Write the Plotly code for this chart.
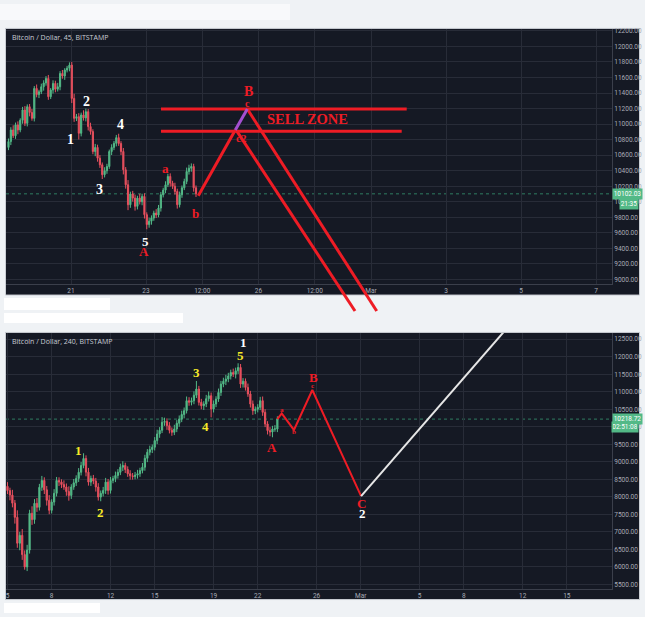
import plotly.graph_objects as go
import pandas as pd

# ---------------- DATA ----------------
# Top panel: BTC/USD (45 view), candles Feb 19 - Feb 24 2018
top_first_open = 10700
top_close = [
    10775, 10925, 10850, 10990, 10925, 11050, 11182, 11010, 11224, 11150,
    11074, 11460, 11380, 11417, 11481, 11530, 11588, 11353, 11439, 11524,
    11450, 11481, 11652, 11620, 11696, 11720, 11760, 11331, 11074, 11096,
    10882, 11118, 11080, 11160, 10968, 10904, 10647, 10700, 10561, 10476,
    10348, 10400, 10454, 10647, 10700, 10753, 10826, 10750, 10647, 10412,
    10219, 9962, 10100, 10047, 9941, 10047, 10000, 10069, 9834, 9706,
    9750, 9790, 9855, 9830, 9919, 10091, 10150, 10219, 10326, 10240,
    10200, 10133, 9962, 10091, 10180, 10262, 10390, 10432, 10454, 10180,
    10102,
]
top_wick_hi = [
    40, 35, 60, 30, 45, 25, 40, 50, 30, 35,
    45, 30, 50, 25, 40, 35, 30, 45, 25, 40,
    35, 50, 30, 45, 25, 30, 35, 40, 60, 35,
    45, 30, 60, 40, 35, 50, 30, 45, 35, 40,
    30, 45, 35, 25, 40, 30, 35, 50, 30, 45,
    35, 60, 30, 40, 45, 30, 55, 35, 40, 30,
    45, 35, 30, 50, 40, 35, 30, 45, 35, 40,
    30, 45, 35, 40, 30, 35, 50, 45, 40, 35,
    30,
]
top_wick_lo = [
    35, 45, 30, 40, 55, 30, 45, 35, 40, 50,
    30, 40, 35, 45, 30, 50, 35, 40, 30, 45,
    40, 30, 45, 35, 50, 30, 40, 60, 45, 35,
    80, 40, 35, 45, 50, 40, 35, 60, 45, 40,
    55, 35, 40, 30, 45, 35, 40, 30, 45, 60,
    50, 70, 40, 45, 55, 40, 35, 45, 50, 60,
    40, 45, 35, 40, 30, 45, 35, 40, 30, 45,
    35, 40, 50, 35, 40, 30, 35, 40, 45, 50,
    40,
]
top_dates = pd.date_range(end="2018-02-24 08:00", periods=len(top_close), freq="90min")
top_last_price = 10102.03

# Bottom panel: BTC/USD (240 view), candles Feb 5 - Feb 23 2018
bot_first_open = 8300
bot_close = [
    8180, 8050, 7820, 7415, 6675, 6900, 6350, 6000, 6480, 7530,
    7350, 7815, 7700, 8270, 8467, 8200, 7900, 7615, 7850, 8100,
    8467, 8420, 8350, 8280, 8150, 8040, 8280, 8400, 8525, 8700,
    8895, 9094, 8705, 8420, 8525, 8450, 8280, 7993, 8100, 8183,
    8420, 8183, 8467, 8520, 8610, 8700, 8846, 8895, 8780, 8660,
    8600, 8580, 8620, 8660, 8750, 8846, 9100, 9273, 9350, 9415,
    9605, 9795, 9900, 10127, 10150, 10033, 9900, 9842, 9937, 10100,
    10223, 10350, 10460, 10744, 10700, 10744, 10900, 11077, 10697, 10600,
    10650, 10800, 10886, 10508, 10650, 10791, 10981, 11219, 11300, 11362,
    11450, 11550, 11500, 11598, 11692, 11219, 11300, 11123, 10935, 10650,
    10460, 10500, 10555, 10744, 10412, 10080, 9890, 9850, 9937, 9937,
    10219,
]
bot_wick_hi = [
    120, 80, 150, 90, 200, 100, 180, 120, 150, 100,
    200, 120, 150, 100, 130, 90, 110, 150, 80, 120,
    100, 90, 80, 120, 100, 150, 80, 110, 90, 120,
    100, 150, 90, 120, 80, 100, 90, 110, 80, 100,
    120, 90, 100, 80, 110, 90, 100, 120, 80, 90,
    100, 80, 90, 110, 80, 120, 100, 90, 110, 80,
    100, 120, 90, 150, 110, 90, 100, 80, 120, 90,
    100, 110, 90, 120, 100, 90, 110, 230, 90, 100,
    80, 110, 120, 90, 100, 80, 110, 90, 100, 120,
    90, 80, 110, 90, 120, 100, 90, 80, 110, 90,
    100, 80, 90, 110, 120, 90, 80, 100, 90, 110,
    80,
]
bot_wick_lo = [
    100, 150, 120, 180, 130, 200, 150, 80, 120, 100,
    150, 120, 130, 90, 100, 120, 150, 110, 90, 100,
    90, 110, 100, 80, 120, 150, 100, 80, 90, 100,
    90, 80, 120, 100, 110, 90, 130, 100, 120, 90,
    100, 120, 90, 80, 100, 90, 80, 110, 100, 90,
    110, 90, 80, 100, 90, 80, 100, 110, 90, 100,
    90, 100, 110, 80, 100, 120, 90, 100, 80, 90,
    100, 90, 110, 80, 100, 90, 100, 80, 90, 100,
    120, 90, 80, 240, 100, 90, 80, 100, 90, 110,
    90, 100, 80, 120, 90, 110, 100, 90, 80, 100,
    120, 100, 90, 80, 100, 90, 110, 120, 150, 80,
    90,
]
bot_dates = pd.date_range("2018-02-05 00:00", periods=len(bot_close), freq="4h")
bot_last_price = 10218.72

# Drawn projections (date, price)
sell_hi_x = ["2018-02-23 09:36", "2018-03-01 22:51"]
sell_hi_y = [11195, 11195]
sell_lo_x = ["2018-02-23 09:36", "2018-03-01 19:39"]
sell_lo_y = [10907, 10907]
top_up_x = ["2018-02-24 09:29", "2018-02-25 09:09"]
top_up_y = [10078, 10925]
top_purple_x = ["2018-02-25 09:09", "2018-02-25 16:50"]
top_purple_y = [10925, 11195]
top_outer_x = ["2018-02-25 16:50", "2018-03-01 03:39"]
top_outer_y = [11195, 8593]
top_inner_x = ["2018-02-25 10:14", "2018-02-28 13:45"]
top_inner_y = [10907, 8593]

bot_zig_x = ["2018-02-23 08:00", "2018-02-23 15:06", "2018-02-24 11:02",
             "2018-02-25 17:00", "2018-03-01 00:30"]
bot_zig_y = [10219, 10383, 9910, 11049, 8021]
bot_white_x = ["2018-03-01 00:30", "2018-03-10 21:00"]
bot_white_y = [8021, 12786]

# Tick labels
top_tickvals = ["2018-02-21", "2018-02-23", "2018-02-24 12:00", "2018-02-26",
                "2018-02-27 12:00", "2018-03-01", "2018-03-03", "2018-03-05", "2018-03-07"]
top_ticktext = ["21", "23", "12:00", "26", "12:00", "Mar", "3", "5", "7"]
top_price_ticks = list(range(9000, 12201, 200))
bot_tickvals = ["2018-02-05", "2018-02-08", "2018-02-12", "2018-02-15", "2018-02-19",
                "2018-02-22", "2018-02-26", "2018-03-01", "2018-03-05", "2018-03-08",
                "2018-03-12", "2018-03-15"]
bot_ticktext = ["5", "8", "12", "15", "19", "22", "26", "Mar", "5", "8", "12", "15"]
bot_price_ticks = list(range(5500, 12501, 500))

# Wave labels: (text, date, price, color, size)
RED = "#ee1c25"
YEL = "#f7e928"
WHT = "#ffffff"
top_labels = [
    ("1", "2018-02-20 23:50", 10801, WHT, 14),
    ("2", "2018-02-21 10:03", 11289, WHT, 14),
    ("3", "2018-02-21 18:33", 10155, WHT, 14),
    ("4", "2018-02-22 07:22", 10997, WHT, 14),
    ("5", "2018-02-22 23:48", 9491, WHT, 13),
    ("A", "2018-02-22 22:43", 9363, RED, 13),
    ("a", "2018-02-23 12:36", 10432, RED, 13),
    ("b", "2018-02-24 07:48", 9855, RED, 13),
    ("B", "2018-02-25 17:28", 11420, RED, 14),
    ("c", "2018-02-25 16:49", 11270, RED, 10),
    ("c2", "2018-02-25 13:15", 10826, RED, 11),
    ("SELL ZONE", "2018-02-27 07:22", 11064, RED, 14.5),
]
bot_labels = [
    ("1", "2018-02-09 19:27", 9321, YEL, 13),
    ("2", "2018-02-11 06:49", 7548, YEL, 13),
    ("3", "2018-02-17 19:21", 11550, YEL, 13),
    ("4", "2018-02-18 10:01", 10004, YEL, 13),
    ("5", "2018-02-20 19:04", 12025, YEL, 13),
    ("1", "2018-02-21 00:27", 12403, WHT, 13),
    ("A", "2018-02-22 22:45", 9415, RED, 13),
    ("a", "2018-02-23 15:04", 10479, RED, 7),
    ("b", "2018-02-24 11:07", 9842, RED, 7),
    ("B", "2018-02-25 18:35", 11420, RED, 13),
    ("c", "2018-02-25 16:58", 11160, RED, 7),
    ("C", "2018-03-01 01:30", 7804, RED, 13),
    ("2", "2018-03-01 02:28", 7520, WHT, 13),
]

# ---------------- GEOMETRY / STYLE ----------------
W, H = 645, 617
def fx(px):
    return px / W
def fy(py):
    return 1 - py / H

BG = "#151924"
GRID = "#282c38"
AXLINE = "#3b3f4b"
TICKC = "#a8acb6"
GREEN = "#53b987"
CRED = "#e8505e"
PAGE = "#eff2f5"

top_yrange = [8940, 12226]
top_px = (27, 283)
bot_yrange = [5366, 12679]
bot_px = (332, 589)
ext_bottom_px = 312
scale_top = (top_yrange[1] - top_yrange[0]) / (top_px[1] - top_px[0])
ext_yrange = [top_yrange[1] - (ext_bottom_px - top_px[0]) * scale_top, top_yrange[1]]
top_xrange = ["2018-02-19 06:24", "2018-03-07 10:14"]
bot_xrange = ["2018-02-04 21:33", "2018-03-18 01:36"]


def ohlc(first_open, close, whi, wlo):
    o = [first_open] + close[:-1]
    h = [max(a, b) + w for a, b, w in zip(o, close, whi)]
    l = [min(a, b) - w for a, b, w in zip(o, close, wlo)]
    return o, h, l


fig = go.Figure()

to, th, tl = ohlc(top_first_open, top_close, top_wick_hi, top_wick_lo)
fig.add_trace(go.Candlestick(
    x=top_dates, open=to, high=th, low=tl, close=top_close,
    increasing=dict(line=dict(color=GREEN, width=1), fillcolor=GREEN),
    decreasing=dict(line=dict(color=CRED, width=1), fillcolor=CRED),
    xaxis="x", yaxis="y", showlegend=False, hoverinfo="skip"))

bo, bh, bl = ohlc(bot_first_open, bot_close, bot_wick_hi, bot_wick_lo)
fig.add_trace(go.Candlestick(
    x=bot_dates, open=bo, high=bh, low=bl, close=bot_close,
    increasing=dict(line=dict(color=GREEN, width=1), fillcolor=GREEN),
    decreasing=dict(line=dict(color=CRED, width=1), fillcolor=CRED),
    xaxis="x2", yaxis="y2", showlegend=False, hoverinfo="skip"))


def line(x, y, color, width, xa, ya):
    fig.add_trace(go.Scatter(x=x, y=y, mode="lines", line=dict(color=color, width=width),
                             xaxis=xa, yaxis=ya, showlegend=False, hoverinfo="skip"))


# Top projections on extended overlay axes (lines run past the panel bottom)
line(sell_hi_x, sell_hi_y, RED, 3, "x3", "y3")
line(sell_lo_x, sell_lo_y, RED, 3, "x3", "y3")
line(top_up_x, top_up_y, RED, 3, "x3", "y3")
line(top_outer_x, top_outer_y, RED, 3, "x3", "y3")
line(top_inner_x, top_inner_y, RED, 3, "x3", "y3")
line(top_purple_x, top_purple_y, "#a44fd0", 3, "x3", "y3")

line(bot_zig_x, bot_zig_y, RED, 2, "x2", "y2")
line(bot_white_x, bot_white_y, "#e6e6e6", 2, "x2", "y2")

xdom = [fx(6), fx(612)]
axis_common = dict(showgrid=True, gridcolor=GRID, gridwidth=1, zeroline=False,
                   tickfont=dict(family="Roboto", size=6.5, color=TICKC), ticks="",
                   showline=True, linecolor=AXLINE, linewidth=1, fixedrange=True)

fig.update_layout(
    width=W, height=H, margin=dict(l=0, r=0, t=0, b=0),
    paper_bgcolor=PAGE, plot_bgcolor="rgba(0,0,0,0)",
    showlegend=False,
    xaxis=dict(domain=xdom, anchor="y", type="date", range=top_xrange,
               tickvals=top_tickvals, ticktext=top_ticktext,
               rangeslider=dict(visible=False), **axis_common),
    yaxis=dict(domain=[fy(top_px[1]), fy(top_px[0])], anchor="x", side="right",
               range=top_yrange, tickvals=top_price_ticks, tickformat=".2f", **axis_common),
    xaxis2=dict(domain=xdom, anchor="y2", type="date", range=bot_xrange,
                tickvals=bot_tickvals, ticktext=bot_ticktext,
                rangeslider=dict(visible=False), **axis_common),
    yaxis2=dict(domain=[fy(bot_px[1]), fy(bot_px[0])], anchor="x2", side="right",
                range=bot_yrange, tickvals=bot_price_ticks, tickformat=".2f", **axis_common),
    xaxis3=dict(domain=xdom, anchor="y3", type="date", range=top_xrange, visible=False,
                fixedrange=True),
    yaxis3=dict(domain=[fy(ext_bottom_px), fy(top_px[0])], anchor="x3", range=ext_yrange,
                visible=False, fixedrange=True),
)

shapes = [
    # dark panels
    dict(type="rect", xref="paper", yref="paper", x0=fx(5.5), x1=fx(639.5), y0=fy(294), y1=fy(26.5),
         fillcolor=BG, line=dict(color="#c9cdd3", width=1), layer="below"),
    dict(type="rect", xref="paper", yref="paper", x0=fx(5.5), x1=fx(639.5), y0=fy(599.5), y1=fy(331.5),
         fillcolor=BG, line=dict(color="#c9cdd3", width=1), layer="below"),
    # white scribbles on the page
    dict(type="rect", xref="paper", yref="paper", x0=fx(4), x1=fx(110), y0=fy(309), y1=fy(297),
         fillcolor="#ffffff", line=dict(width=0), layer="below"),
    dict(type="rect", xref="paper", yref="paper", x0=fx(4), x1=fx(183), y0=fy(322), y1=fy(312),
         fillcolor="#ffffff", line=dict(width=0), layer="below"),
    dict(type="rect", xref="paper", yref="paper", x0=fx(4), x1=fx(100), y0=fy(613), y1=fy(603),
         fillcolor="#ffffff", line=dict(width=0), layer="below"),
    dict(type="rect", xref="paper", yref="paper", x0=fx(0), x1=fx(290), y0=fy(18), y1=fy(2),
         fillcolor="#f8f9fb", line=dict(width=0), layer="below"),
    # last-price dotted lines
    dict(type="line", xref="x domain", yref="y", x0=0, x1=1, y0=top_last_price, y1=top_last_price,
         line=dict(color="#2f7d62", width=1, dash="dot"), layer="below"),
    dict(type="line", xref="x2 domain", yref="y2", x0=0, x1=1, y0=bot_last_price, y1=bot_last_price,
         line=dict(color="#2f7d62", width=1, dash="dot"), layer="below"),
]
fig.update_layout(shapes=shapes)

ann = []
SERIF = "Liberation Serif"
for t, x, y, c, s in top_labels:
    ann.append(dict(text="<b>%s</b>" % t, x=x, y=y, xref="x", yref="y", showarrow=False,
                    font=dict(family=SERIF, size=s, color=c)))
for t, x, y, c, s in bot_labels:
    ann.append(dict(text="<b>%s</b>" % t, x=x, y=y, xref="x2", yref="y2", showarrow=False,
                    font=dict(family=SERIF, size=s, color=c)))

# titles
ann.append(dict(text="Bitcoin / Dollar, 45, BITSTAMP", xref="paper", yref="paper",
                x=fx(10), y=fy(35.5), xanchor="left", yanchor="middle", showarrow=False,
                font=dict(family="Open Sans", size=7, color="#c9ccd4")))
ann.append(dict(text="Bitcoin / Dollar, 240, BITSTAMP", xref="paper", yref="paper",
                x=fx(10), y=fy(341), xanchor="left", yanchor="middle", showarrow=False,
                font=dict(family="Open Sans", size=7, color="#c9ccd4")))


def badge(text, yref, y, x_px, anchor, width):
    ann.append(dict(text=text, xref="paper", yref=yref, x=fx(x_px), y=y, xanchor=anchor,
                    yanchor="middle", showarrow=False, bgcolor=GREEN, borderpad=1, width=width,
                    font=dict(family="Roboto", size=6.5, color="#ffffff")))


badge("%.2f" % top_last_price, "y", top_last_price, 612, "left", 27)
badge("21:35", "y", 9975, 639, "right", 16)
badge("%.2f" % bot_last_price, "y2", bot_last_price, 612, "left", 27)
badge("02:51:08", "y2", 9984, 639, "right", 24)

fig.update_layout(annotations=ann)

fig.write_html("out.html")
